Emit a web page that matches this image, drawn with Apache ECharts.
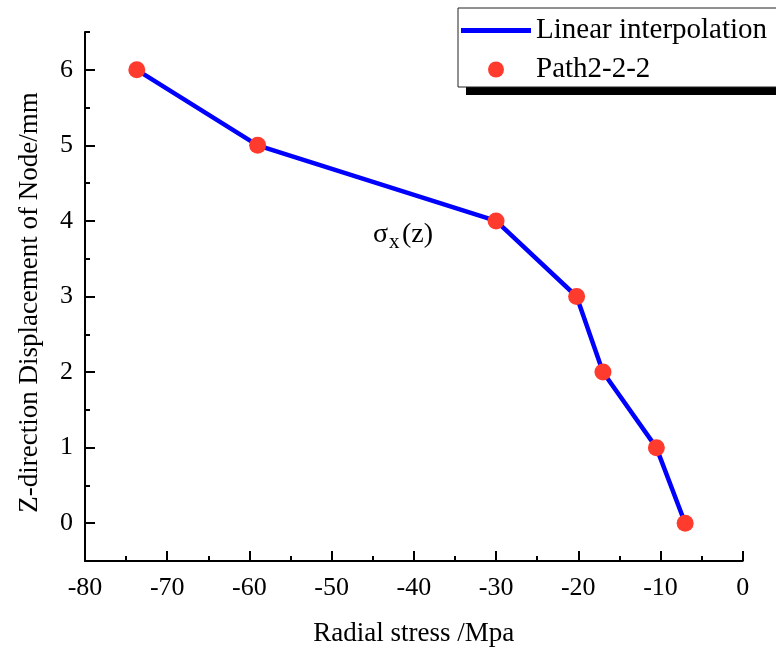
<!DOCTYPE html>
<html>
<head>
<meta charset="utf-8">
<script src="https://cdn.jsdelivr.net/npm/echarts@6/dist/echarts.min.js"></script>
<style>html,body{margin:0;padding:0;background:#fff;}#c{width:776px;height:648px;}</style>
</head>
<body>
<div id="c"></div>
<script>
const stressValues = [-73.7, -59.0, -30.0, -20.2, -17.0, -10.5, -7.0];
const zValues = [6, 5, 4, 3, 2, 1, 0];
const yTickValues = [0, 1, 2, 3, 4, 5, 6];
const seriesNames = ['Linear interpolation', 'Path2-2-2'];
const xAxisTitle = 'Radial stress /Mpa';
const yAxisTitle = 'Z-direction Displacement of Node/mm';

const FONT = "'Liberation Serif', 'Times New Roman', serif";
const points = stressValues.map((v, i) => [v, zValues[i]]);
const gridBox = {left: 85, right: 33.3, top: 32, bottom: 87, outerBoundsMode: 'none', containLabel: false};

const chart = echarts.init(document.getElementById('c'), null, {renderer: 'canvas'});
chart.setOption({
  backgroundColor: '#fff',
  animation: false,
  grid: [Object.assign({}, gridBox), Object.assign({}, gridBox)],
  legend: {
    orient: 'vertical',
    left: 458, top: 8,
    padding: [8, 20, 3, 3],
    itemGap: 10,
    itemWidth: 70,
    itemHeight: 16,
    itemTextGap: 5,
    backgroundColor: '#fff',
    borderColor: '#222',
    borderWidth: 1,
    textStyle: {fontFamily: FONT, fontSize: 29, color: '#000'},
    data: [
      {name: seriesNames[0], icon: 'path://M0,0 L70,0 L70,5 L0,5 Z'},
      {name: seriesNames[1], icon: 'circle'}
    ],
    z: 10
  },
  xAxis: [{
    type: 'value', min: -80, max: 0, interval: 10, gridIndex: 0,
    name: xAxisTitle, nameLocation: 'middle', nameGap: 59,
    nameTextStyle: {fontFamily: FONT, fontSize: 27, color: '#000'},
    axisLine: {show: true, onZero: false, lineStyle: {color: '#000', width: 2}},
    axisTick: {show: true, inside: true, length: 10, lineStyle: {color: '#000', width: 2}},
    minorTick: {show: true, splitNumber: 2, length: 5, lineStyle: {color: '#000', width: 2}},
    axisLabel: {fontFamily: FONT, fontSize: 26, color: '#000', margin: 14},
    splitLine: {show: false}
  }, {
    type: 'value', min: -80, max: 0, interval: 10, gridIndex: 1, show: false
  }],
  yAxis: [{
    type: 'value', min: -0.5, max: 6.5, position: 'left', gridIndex: 0,
    name: yAxisTitle, nameLocation: 'middle', nameGap: 42,
    nameTextStyle: {fontFamily: FONT, fontSize: 27, color: '#000', padding: [0, 12, 0, 0]},
    axisLine: {show: true, onZero: false, lineStyle: {color: '#000', width: 2}},
    axisTick: {show: true, inside: true, length: 10, customValues: yTickValues, lineStyle: {color: '#000', width: 2}},
    axisLabel: {fontFamily: FONT, fontSize: 26, color: '#000', margin: 12, customValues: yTickValues},
    splitLine: {show: false}
  }, {
    type: 'value', min: -0.5, max: 6.5, interval: 0.5, position: 'left', gridIndex: 1,
    axisLine: {show: false, onZero: false},
    axisTick: {show: true, inside: true, length: 5, lineStyle: {color: '#000', width: 2}},
    axisLabel: {show: false},
    splitLine: {show: false}
  }],
  graphic: [
    {type: 'rect', z: 5, shape: {x: 466, y: 16, width: 330, height: 79}, style: {fill: '#000'}},
    {type: 'text', left: 373, top: 221, z: 20, style: {text: 'σ', font: "28px " + FONT, fill: '#000'}},
    {type: 'text', left: 389, top: 232, z: 20, style: {text: 'x', font: "21px " + FONT, fill: '#000'}},
    {type: 'text', left: 402, top: 221, z: 20, style: {text: '(z)', font: "28px " + FONT, fill: '#000'}}
  ],
  series: [{
    name: seriesNames[0], type: 'line', data: points, xAxisIndex: 0, yAxisIndex: 0,
    symbol: 'none', lineStyle: {color: '#0000ff', width: 4.5}, itemStyle: {color: '#0000ff'},
    z: 2
  }, {
    name: seriesNames[1], type: 'scatter', data: points, xAxisIndex: 0, yAxisIndex: 0,
    symbol: 'circle', symbolSize: 17, itemStyle: {color: '#ff3b2e', opacity: 1},
    z: 3
  }]
});
</script>
</body>
</html>
